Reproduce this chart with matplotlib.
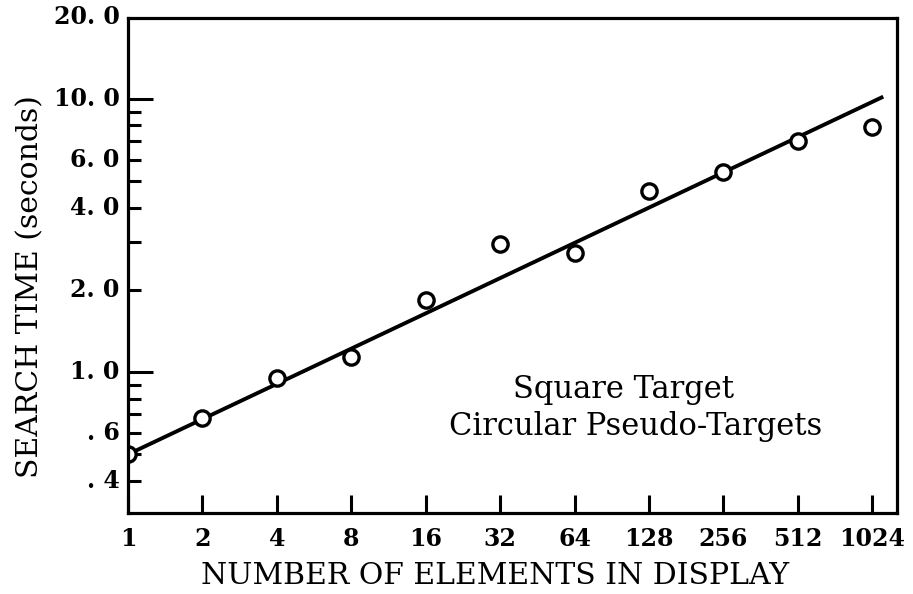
import matplotlib
matplotlib.use("Agg")
import matplotlib.pyplot as plt
from matplotlib.ticker import FixedLocator, FixedFormatter, NullFormatter

# data
elements = [1, 2, 4, 8, 16, 32, 64, 128, 256, 512, 1024]
search_time = [0.50, 0.68, 0.95, 1.14, 1.83, 2.94, 2.73, 4.6, 5.4, 7.0, 7.9]

# fitted line end points
fit_x = [1, 1135]
fit_y = [0.50, 10.2]

y_major = [1.0, 10.0]
y_minor = [0.4, 0.5, 0.6, 0.7, 0.8, 0.9, 2, 3, 4, 5, 6, 7, 8, 9]
y_label_vals = [0.4, 0.6, 1.0, 2.0, 4.0, 6.0, 10.0, 20.0]
y_label_txt = [". 4", ". 6", "1. 0", "2. 0", "4. 0", "6. 0", "10. 0", "20. 0"]

plt.rcParams['font.family'] = ['DejaVu Serif']

fig = plt.figure(figsize=(9.13, 5.94), dpi=100)
ax = fig.add_axes([128 / 913, 1 - 513 / 594, (897 - 128) / 913, (513 - 18) / 594])

ax.set_xscale('log', base=2)
ax.set_yscale('log')
ax.set_xlim(1, 1290)
ax.set_ylim(0.305, 19.8)

ax.plot(fit_x, fit_y, color='black', lw=2.8, solid_capstyle='butt')
ax.plot(elements, search_time, 'o', ms=11, mfc='white', mec='black', mew=2.4)

for sp in ax.spines.values():
    sp.set_linewidth(2.3)

# x ticks
ax.xaxis.set_major_locator(FixedLocator(elements))
ax.xaxis.set_major_formatter(FixedFormatter([str(e) for e in elements]))
ax.xaxis.set_minor_locator(FixedLocator([]))
ax.tick_params(axis='x', which='major', direction='in', length=13, width=2.2,
               pad=10, labelsize=17)

# y ticks: long ticks at decades, short ones between, labels drawn separately
ax.yaxis.set_major_locator(FixedLocator(y_major))
ax.yaxis.set_minor_locator(FixedLocator(y_minor))
ax.yaxis.set_major_formatter(NullFormatter())
ax.yaxis.set_minor_formatter(NullFormatter())
ax.tick_params(axis='y', which='major', direction='in', length=18, width=2.2)
ax.tick_params(axis='y', which='minor', direction='in', length=9.5, width=2.2)
ax.tick_params(top=False, right=False)

for v, t in zip(y_label_vals, y_label_txt):
    ax.annotate(t, xy=(0, v), xycoords=('axes fraction', 'data'),
                xytext=(-6, 0), textcoords='offset points',
                ha='right', va='center', fontsize=17, fontweight='bold')

for lbl in ax.get_xticklabels():
    lbl.set_fontweight('bold')

ax.set_xlabel('NUMBER OF ELEMENTS IN DISPLAY', fontsize=21.5)
ax.xaxis.set_label_coords(0.477, -0.100)
ax.set_ylabel('SEARCH TIME (seconds)', fontsize=21.5)
ax.yaxis.set_label_coords(-0.109, 0.457)

ax.text(0.644, 0.249, 'Square Target', transform=ax.transAxes,
        ha='center', va='center', fontsize=22)
ax.text(0.660, 0.174, 'Circular Pseudo-Targets', transform=ax.transAxes,
        ha='center', va='center', fontsize=22)

fig.savefig('out.png', dpi=100)
